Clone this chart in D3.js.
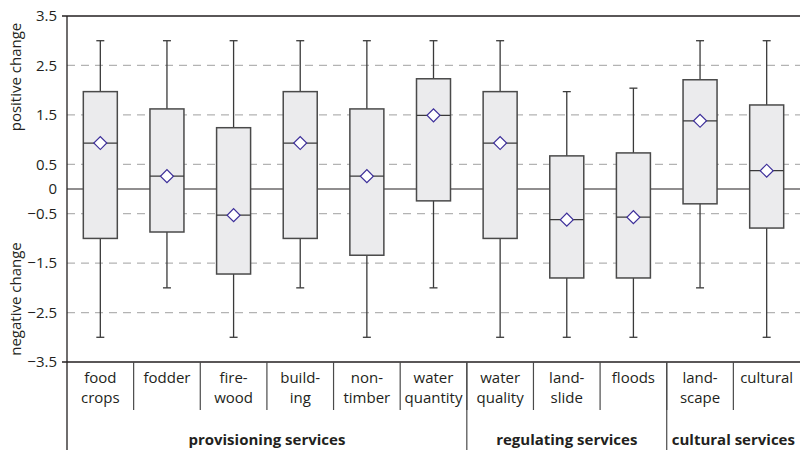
<!DOCTYPE html>
<html><head><meta charset="utf-8">
<script src="https://cdn.jsdelivr.net/npm/d3@7"></script>
<style>body{margin:0;background:#fff}svg{display:block}text{font-family:"Open Sans",sans-serif;fill:#231f20}</style>
</head><body><svg id="c" width="800" height="450"></svg>
<script>
const categories = ["food crops","fodder","fire-wood","build-ing","non-timber","water quantity","water quality","land-slide","floods","land-scape","cultural"];
const labelLines = [["food","crops"],["fodder"],["fire-","wood"],["build-","ing"],["non-","timber"],["water","quantity"],["water","quality"],["land-","slide"],["floods"],["land-","scape"],["cultural"]];
const whiskerHigh = [3.0, 3.0, 3.0, 3.0, 3.0, 3.0, 3.0, 1.97, 2.04, 3.0, 3.0];
const q3 = [1.97, 1.62, 1.24, 1.97, 1.62, 2.23, 1.97, 0.67, 0.73, 2.21, 1.70];
const medians = [0.93, 0.26, -0.53, 0.93, 0.26, 1.49, 0.93, -0.62, -0.57, 1.38, 0.37];
const means = [0.93, 0.26, -0.53, 0.93, 0.26, 1.49, 0.93, -0.62, -0.57, 1.38, 0.37];
const q1 = [-1.0, -0.87, -1.72, -1.0, -1.34, -0.24, -1.0, -1.80, -1.80, -0.30, -0.79];
const whiskerLow = [-3.0, -2.0, -3.0, -2.0, -3.0, -2.0, -3.0, -3.0, -3.0, -2.0, -3.0];
const yTicks = [3.5, 2.5, 1.5, 0.5, 0, -0.5, -1.5, -2.5, -3.5];
const gridValues = [2.5, 1.5, 0.5, -0.5, -1.5, -2.5];
const groups = ["provisioning services","regulating services","cultural services"];
const groupStart = [0, 6, 9];
const groupEnd = [5, 8, 10];

const svg = d3.select("#c");
const L = 67, R = 800, T = 16, B = 362;
const x = d3.scaleBand().domain(categories).range([L, R]);
const y = d3.scaleLinear().domain([-3.5, 3.5]).range([B, T]);
const bw = 34;

// grid
svg.append("g").selectAll("line").data(gridValues).join("line")
  .attr("x1", L).attr("x2", R).attr("y1", d => y(d)).attr("y2", d => y(d))
  .attr("stroke", "#b3b3b3").attr("stroke-width", 1.2).attr("stroke-dasharray", "8,6");
// zero line
svg.append("line").attr("x1", L).attr("x2", R).attr("y1", y(0)).attr("y2", y(0)).attr("stroke", "#231f20").attr("stroke-width", 1.2);
// top / bottom borders
svg.append("line").attr("x1", L - 5).attr("x2", R).attr("y1", y(3.5)).attr("y2", y(3.5)).attr("stroke", "#231f20").attr("stroke-width", 1.3);
svg.append("line").attr("x1", L - 5).attr("x2", R).attr("y1", y(-3.5)).attr("y2", y(-3.5)).attr("stroke", "#231f20").attr("stroke-width", 1.3);

// y axis tick labels
const yAxis = d3.axisLeft(y).tickValues(yTicks).tickSize(0).tickPadding(10).tickFormat(d3.format("~g"));
const ga = svg.append("g").attr("transform", `translate(${L},0)`).call(yAxis);
ga.select(".domain").remove();
ga.selectAll("text").attr("font-size", 15).attr("font-family", "Open Sans").attr("fill", "#231f20");
// left axis line
svg.append("line").attr("x1", L).attr("x2", L).attr("y1", T).attr("y2", 450).attr("stroke", "#231f20").attr("stroke-width", 1.3);

// axis titles
svg.append("text").attr("transform", `translate(21,77) rotate(-90)`).attr("text-anchor", "middle").attr("font-size", 15).text("positive change");
svg.append("text").attr("transform", `translate(21,299) rotate(-90)`).attr("text-anchor", "middle").attr("font-size", 15).text("negative change");

// boxes
const data = categories.map((c, i) => ({c, hi: whiskerHigh[i], q3: q3[i], med: medians[i], mean: means[i], q1: q1[i], lo: whiskerLow[i]}));
const g = svg.append("g").selectAll("g").data(data).join("g")
  .attr("transform", d => `translate(${x(d.c) + x.bandwidth() / 2},0)`);
g.append("line").attr("y1", d => y(d.hi)).attr("y2", d => y(d.lo)).attr("stroke", "#3a3a3a").attr("stroke-width", 1.3);
g.append("line").attr("x1", -4).attr("x2", 4).attr("y1", d => y(d.hi)).attr("y2", d => y(d.hi)).attr("stroke", "#3a3a3a").attr("stroke-width", 1.3);
g.append("line").attr("x1", -4).attr("x2", 4).attr("y1", d => y(d.lo)).attr("y2", d => y(d.lo)).attr("stroke", "#3a3a3a").attr("stroke-width", 1.3);
g.append("rect").attr("x", -bw / 2).attr("width", bw).attr("y", d => y(d.q3)).attr("height", d => y(d.q1) - y(d.q3))
  .attr("fill", "#ebebed").attr("stroke", "#4a4a4a").attr("stroke-width", 1.5);
g.append("line").attr("x1", -bw / 2).attr("x2", bw / 2).attr("y1", d => y(d.med)).attr("y2", d => y(d.med)).attr("stroke", "#3a3a3a").attr("stroke-width", 1.3);
g.append("path").attr("d", d3.symbol(d3.symbolSquare, 84)())
  .attr("transform", d => `translate(0,${y(d.mean)}) rotate(45)`)
  .attr("fill", "#fff").attr("stroke", "#3d2f9a").attr("stroke-width", 1.2);

// category labels
const cl = svg.append("g").selectAll("g").data(categories).join("g");
cl.append("line").attr("x1", d => x(d) + x.bandwidth()).attr("x2", d => x(d) + x.bandwidth())
  .attr("y1", B).attr("y2", 410).attr("stroke", "#4a4a4a").attr("stroke-width", 1.2)
  .filter((d, i) => i === categories.length - 1).remove();
cl.append("text").attr("text-anchor", "middle").attr("font-size", 15)
  .attr("x", d => x(d) + x.bandwidth() / 2)
  .selectAll("tspan").data((d, i) => labelLines[i]).join("tspan")
  .attr("x", function () { return this.parentNode.getAttribute("x"); })
  .attr("y", (d, j) => 383 + j * 20).text(d => d);

// group separators and labels
groups.forEach((gName, k) => {
  const x0 = x(categories[groupStart[k]]);
  const x1 = x(categories[groupEnd[k]]) + x.bandwidth();
  if (k > 0) svg.append("line").attr("x1", x0).attr("x2", x0).attr("y1", B).attr("y2", 450).attr("stroke", "#4a4a4a").attr("stroke-width", 1.2);
  svg.append("text").attr("x", (x0 + x1) / 2).attr("y", 445).attr("text-anchor", "middle").attr("font-size", 15).attr("font-weight", "bold").text(gName);
});
</script></body></html>
